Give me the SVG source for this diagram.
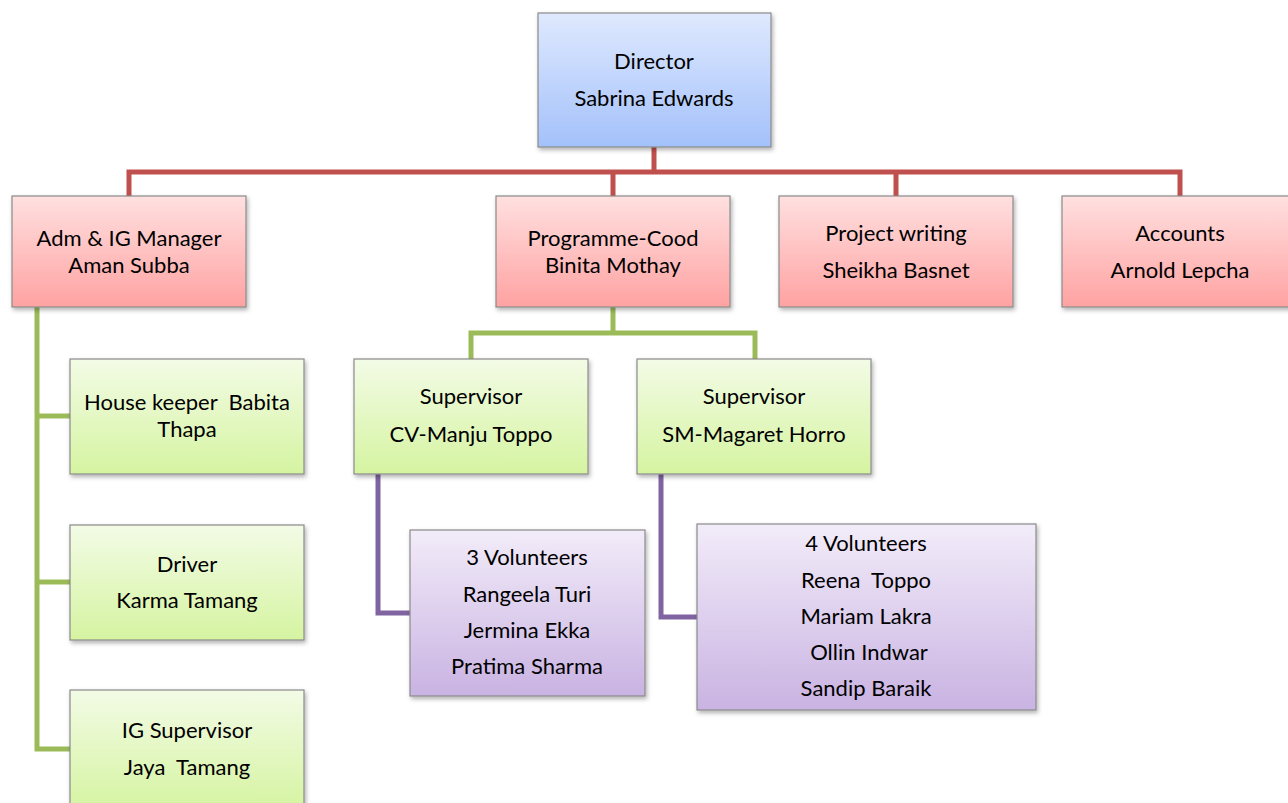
<svg xmlns="http://www.w3.org/2000/svg" width="1288" height="803" viewBox="0 0 1288 803">
<defs>
<linearGradient id="gBlue" x1="0" y1="0" x2="0" y2="1"><stop offset="0" stop-color="#dfe9fe"/><stop offset="1" stop-color="#a3c1fa"/></linearGradient>
<linearGradient id="gRed" x1="0" y1="0" x2="0" y2="1"><stop offset="0" stop-color="#ffe0e0"/><stop offset="1" stop-color="#ffa2a2"/></linearGradient>
<linearGradient id="gGreen" x1="0" y1="0" x2="0" y2="1"><stop offset="0" stop-color="#f3fbe6"/><stop offset="1" stop-color="#d5f4a1"/></linearGradient>
<linearGradient id="gPurple" x1="0" y1="0" x2="0" y2="1"><stop offset="0" stop-color="#f2ecf9"/><stop offset="1" stop-color="#c9b3e2"/></linearGradient>
<filter id="sh" x="-5%" y="-5%" width="115%" height="120%"><feDropShadow dx="1.5" dy="2.5" stdDeviation="2" flood-color="#000" flood-opacity="0.3"/></filter>
</defs>
<style>
.box{stroke:#8a8a8a;stroke-width:1.2;filter:url(#sh)}
.blue{fill:url(#gBlue)}.red{fill:url(#gRed)}.green{fill:url(#gGreen)}.purple{fill:url(#gPurple)}
text{font-family:Lato,"Open Sans","Liberation Sans",sans-serif;font-size:22px;fill:#000;text-anchor:middle}
.c{fill:none;stroke-width:5;stroke-linejoin:miter}
.cr{stroke:#c0504d}.cg{stroke:#9bbb59}.cp{stroke:#8064a2}
</style>
<rect width="1288" height="803" fill="#fff"/>
<g id="connectors">
<path class="c cr" d="M654 147V172M129 196V172H1180V196M613 172V196M896 172V196"/>
<path class="c cg" d="M37 307V749H70M37 416H70M37 582H70"/>
<path class="c cg" d="M613 307V333M471 359V333H755V359"/>
<path class="c cp" d="M378 474V613H410"/>
<path class="c cp" d="M661 474V617H697"/>
</g>
<g id="director"><rect class="box blue" x="538" y="13" width="233" height="134"/><text x="654" y="69">Director</text><text x="654" y="106">Sabrina Edwards</text></g>
<g id="adm"><rect class="box red" x="12" y="196" width="234" height="111"/><text x="129" y="246">Adm &amp; IG Manager</text><text x="129" y="273">Aman Subba</text></g>
<g id="programme"><rect class="box red" x="496" y="196" width="234" height="111"/><text x="613" y="246">Programme-Cood</text><text x="613" y="273">Binita Mothay</text></g>
<g id="project"><rect class="box red" x="779" y="196" width="234" height="111"/><text x="896" y="241">Project writing</text><text x="896" y="278">Sheikha Basnet</text></g>
<g id="accounts"><rect class="box red" x="1062" y="196" width="234" height="111"/><text x="1180" y="241">Accounts</text><text x="1180" y="278">Arnold Lepcha</text></g>
<g id="housekeeper"><rect class="box green" x="70" y="359" width="234" height="115"/><text x="187" y="410" xml:space="preserve">House keeper  Babita</text><text x="187" y="437">Thapa</text></g>
<g id="driver"><rect class="box green" x="70" y="525" width="234" height="115"/><text x="187" y="572">Driver</text><text x="187" y="608">Karma Tamang</text></g>
<g id="igsupervisor"><rect class="box green" x="70" y="690" width="234" height="120"/><text x="187" y="738">IG Supervisor</text><text x="187" y="775" xml:space="preserve">Jaya  Tamang</text></g>
<g id="supcv"><rect class="box green" x="354" y="359" width="234" height="115"/><text x="471" y="404">Supervisor</text><text x="471" y="442">CV-Manju Toppo</text></g>
<g id="supsm"><rect class="box green" x="637" y="359" width="234" height="115"/><text x="754" y="404">Supervisor</text><text x="754" y="442">SM-Magaret Horro</text></g>
<g id="vol3"><rect class="box purple" x="410" y="530" width="235" height="166"/><text x="527" y="565">3 Volunteers</text><text x="527" y="602">Rangeela Turi</text><text x="527" y="638">Jermina Ekka</text><text x="527" y="674">Pratima Sharma</text></g>
<g id="vol4"><rect class="box purple" x="697" y="524" width="339" height="186"/><text x="866" y="551">4 Volunteers</text><text x="866" y="588" xml:space="preserve">Reena  Toppo</text><text x="866" y="624">Mariam Lakra</text><text x="869" y="660">Ollin Indwar</text><text x="866" y="696">Sandip Baraik</text></g>
</svg>
